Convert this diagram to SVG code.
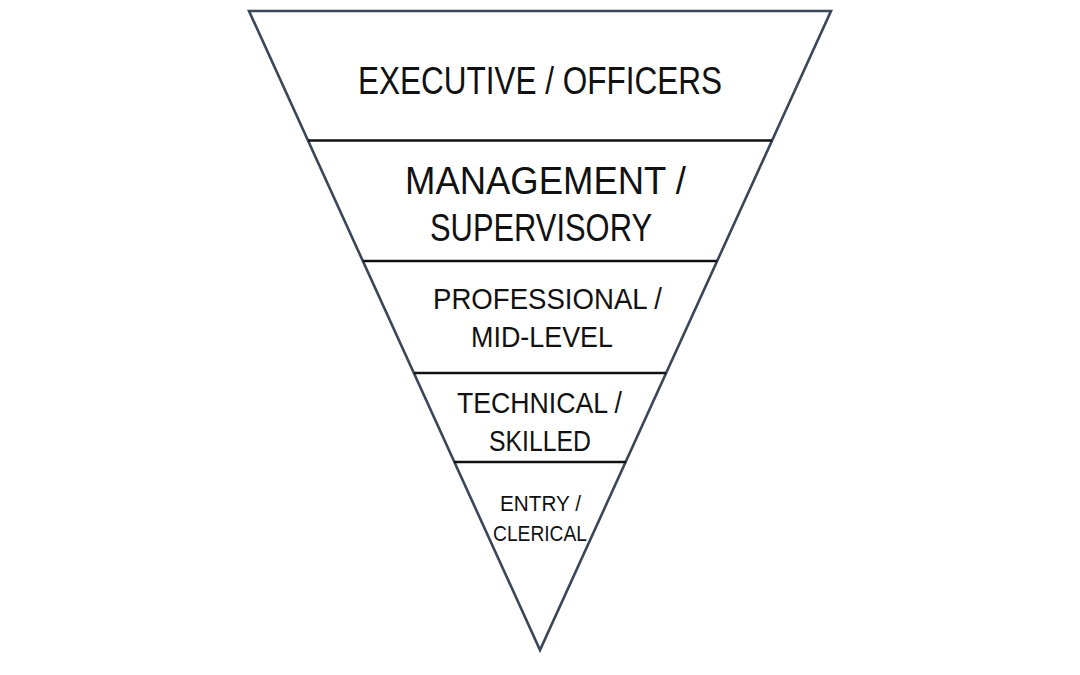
<svg xmlns="http://www.w3.org/2000/svg" width="1080" height="675" viewBox="0 0 1080 675">
<style>
.edge{fill:#ffffff;stroke:#3b4658;stroke-width:2.6;stroke-linejoin:miter}
.div{stroke:#111111;stroke-width:2.6}
text{font-family:"Liberation Sans",Arial,sans-serif;fill:#111111;text-anchor:middle}
.t1{font-size:38px}
.t3{font-size:29px}
.t5{font-size:22px}
</style>
<rect width="1080" height="675" fill="#ffffff"/>
<g id="funnel">
<polygon class="edge" points="249,11 831,11 540,650"/>
</g>
<g id="connectors">
<line class="div" x1="308" y1="140.5" x2="772" y2="140.5"/>
<line class="div" x1="363" y1="261" x2="717" y2="261"/>
<line class="div" x1="414" y1="373" x2="666" y2="373"/>
<line class="div" x1="454" y1="462" x2="626" y2="462"/>
</g>
<g id="executive">
<text class="t1" x="540" y="94" textLength="364" lengthAdjust="spacingAndGlyphs">EXECUTIVE / OFFICERS</text>
</g>
<g id="management">
<text class="t1" x="545.5" y="194" textLength="281" lengthAdjust="spacingAndGlyphs">MANAGEMENT /</text>
<text class="t1" x="541" y="241" textLength="222" lengthAdjust="spacingAndGlyphs">SUPERVISORY</text>
</g>
<g id="professional">
<text class="t3" x="547.5" y="309" textLength="229" lengthAdjust="spacingAndGlyphs">PROFESSIONAL /</text>
<text class="t3" x="542" y="347" textLength="142" lengthAdjust="spacingAndGlyphs">MID-LEVEL</text>
</g>
<g id="technical">
<text class="t3" x="539.5" y="413" textLength="165" lengthAdjust="spacingAndGlyphs">TECHNICAL /</text>
<text class="t3" x="540" y="451" textLength="102" lengthAdjust="spacingAndGlyphs">SKILLED</text>
</g>
<g id="entry">
<text class="t5" x="540.5" y="511" textLength="81" lengthAdjust="spacingAndGlyphs">ENTRY /</text>
<text class="t5" x="540" y="541" textLength="94" lengthAdjust="spacingAndGlyphs">CLERICAL</text>
</g>
</svg>
